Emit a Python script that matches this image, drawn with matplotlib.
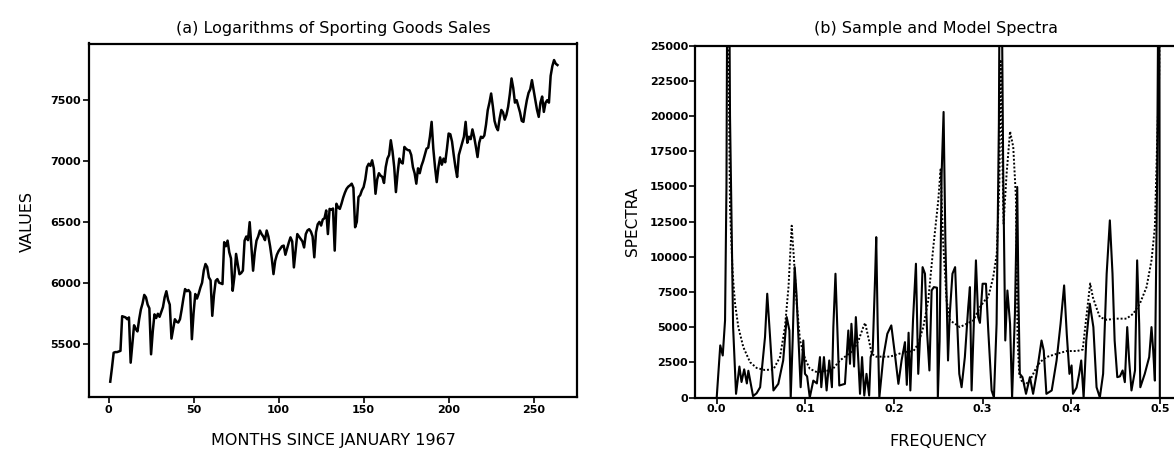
import numpy as np
import matplotlib
matplotlib.use("Agg")
import matplotlib.pyplot as plt

# --------------------------
# DATA
# --------------------------
# log sporting goods sales (x1000), one value per month from Jan 1967
sales_log = [
    5187, 5300, 5425, 5430, 5430, 5435, 5440, 5725, 5720, 5715, 5700, 5715,
    5343, 5500, 5650, 5620, 5600, 5700, 5780, 5830, 5900, 5880, 5820, 5790,
    5412, 5600, 5740, 5710, 5745, 5720, 5760, 5800, 5880, 5930, 5860, 5820,
    5541, 5620, 5700, 5680, 5673, 5700, 5780, 5870, 5948, 5930, 5940, 5920,
    5536, 5750, 5907, 5870, 5910, 5960, 6000, 6100, 6154, 6130, 6044, 6020,
    5728, 5900, 6016, 6030, 6000, 5995, 5989, 6333, 6300, 6346, 6250, 6200,
    5934, 6050, 6237, 6150, 6070, 6080, 6100, 6346, 6380, 6350, 6498, 6300,
    6099, 6250, 6346, 6380, 6429, 6400, 6380, 6350, 6429, 6380, 6300, 6200,
    6071, 6180, 6230, 6260, 6280, 6300, 6305, 6230, 6280, 6330, 6373, 6340,
    6126, 6260, 6400, 6380, 6360, 6340, 6290, 6400, 6430, 6440, 6420, 6380,
    6209, 6415, 6480, 6500, 6470, 6520, 6530, 6594, 6400, 6607, 6600, 6610,
    6264, 6649, 6620, 6607, 6650, 6700, 6740, 6772, 6790, 6800, 6814, 6780,
    6456, 6500, 6704, 6720, 6760, 6786, 6850, 6950, 6978, 6960, 7006, 6940,
    6731, 6850, 6900, 6880, 6870, 6820, 6950, 7020, 7050, 7171, 7080, 6950,
    6745, 6900, 7020, 6990, 6980, 7116, 7100, 7090, 7088, 7050, 6950, 6900,
    6814, 6940, 6900, 6960, 7000, 7050, 7102, 7110, 7200, 7322, 7100, 6950,
    6827, 6950, 7030, 6970, 7020, 6990, 7100, 7226, 7220, 7160, 7050, 6950,
    6869, 7050, 7100, 7150, 7200, 7322, 7150, 7200, 7180, 7260, 7200, 7120,
    7033, 7150, 7200, 7190, 7210, 7300, 7418, 7480, 7555, 7450, 7330, 7280,
    7253, 7350, 7420, 7400, 7340, 7380, 7446, 7550, 7679, 7600, 7480, 7500,
    7450, 7400, 7330, 7322, 7420, 7500, 7560, 7590, 7665, 7580, 7500, 7420,
    7363, 7480, 7530, 7404, 7480, 7500, 7480, 7700, 7780, 7830, 7800, 7789,
]
months = np.arange(1, len(sales_log) + 1)

# sample spectrum (periodogram)
sample_freq = [
    0.0000, 0.0040, 0.0068, 0.0094, 0.0110, 0.0128, 0.0150, 0.0185, 0.0218,
    0.0256, 0.0280, 0.0310, 0.0340, 0.0357, 0.0410, 0.0450, 0.0490, 0.0545,
    0.0570, 0.0600, 0.0640, 0.0695, 0.0750, 0.0790, 0.0820, 0.0835, 0.0857,
    0.0880, 0.0900, 0.0920, 0.0947, 0.0977, 0.0996, 0.1020, 0.1050, 0.1090,
    0.1130, 0.1165, 0.1180, 0.1210, 0.1240, 0.1270, 0.1300, 0.1316, 0.1340,
    0.1360, 0.1383, 0.1410, 0.1447, 0.1485, 0.1504, 0.1520, 0.1550, 0.1570,
    0.1600, 0.1617, 0.1640, 0.1665, 0.1690, 0.1720, 0.1737, 0.1760, 0.1786,
    0.1800, 0.1816, 0.1835, 0.1880, 0.1925, 0.1970, 0.2010, 0.2050, 0.2086,
    0.2124, 0.2145, 0.2165, 0.2185, 0.2215, 0.2248, 0.2274, 0.2300, 0.2323,
    0.2350, 0.2375, 0.2400, 0.2425, 0.2450, 0.2485, 0.2495, 0.2515, 0.2538,
    0.2560, 0.2580, 0.2610, 0.2630, 0.2660, 0.2690, 0.2714, 0.2737, 0.2763,
    0.2800, 0.2838, 0.2857, 0.2876, 0.2900, 0.2925, 0.2950, 0.2970, 0.3000,
    0.3038, 0.3064, 0.3102, 0.3128, 0.3158, 0.3184, 0.3200, 0.3215, 0.3233,
    0.3256, 0.3280, 0.3310, 0.3333, 0.3365, 0.3391, 0.3405, 0.3420, 0.3450,
    0.3490, 0.3534, 0.3570, 0.3610, 0.3665, 0.3690, 0.3720, 0.3780, 0.3835,
    0.3880, 0.3920, 0.3950, 0.3980, 0.4004, 0.4020, 0.4060, 0.4090, 0.4113,
    0.4140, 0.4170, 0.4210, 0.4250, 0.4286, 0.4323, 0.4360, 0.4400, 0.4436,
    0.4466, 0.4490, 0.4520, 0.4550, 0.4580, 0.4605, 0.4632, 0.4654, 0.4680,
    0.4720, 0.4744, 0.4767, 0.4780, 0.4830, 0.4880, 0.4906, 0.4925, 0.4944,
    0.4970, 0.4993, 0.5000,
]
sample_spec = [
    0, 3700, 2985, 5470, 15000, 45000, 20000, 5000, 260,
    2200, 1100, 2000, 1000, 1900, 100, 300, 730, 4290,
    7370, 4500, 500, 970, 2630, 5710, 4760, 0, 4050,
    9260, 7370, 4525, 730, 4050, 1680, 1500, 0, 1200,
    1000, 2870, 730, 2870, 500, 2630, 730, 5000, 8790,
    5000, 850, 900, 970, 4760, 2390, 5235, 2200, 5710,
    2390, 260, 2870, 140, 1680, 140, 2870, 3300, 8315,
    11390, 5235, 0, 2870, 4525, 5120, 3100, 970, 2630,
    3930, 900, 4600, 500, 5500, 9500, 1680, 5000, 9260,
    8790, 4500, 1920, 7600, 7840, 7800, 0, 4000, 15900,
    20280, 11160, 2630, 5950, 8790, 9260, 5235, 1680, 730,
    2870, 6420, 7840, 500, 5000, 9740, 5710, 5300, 8080,
    8080, 4760, 500, 0, 5235, 19450, 40000, 30000, 15900,
    4050, 7600, 5235, 0, 5950, 14950, 7000, 1680, 1445,
    260, 1445, 260, 1700, 4050, 3340, 260, 500, 2630,
    5235, 7960, 4500, 1680, 2275, 260, 700, 1680, 2630,
    0, 4050, 6660, 5000, 730, 0, 1680, 8790, 12580,
    8790, 4050, 1445, 1500, 1920, 1090, 5000, 2630, 500,
    1920, 9740, 5235, 730, 1680, 2870, 5000, 3340, 1200,
    15900, 40000, 0,
]

# fitted model spectrum
model_freq = [
    0.0110, 0.0130, 0.0150, 0.0180, 0.0207, 0.0244, 0.0300, 0.0376, 0.0450,
    0.0545, 0.0640, 0.0714, 0.0770, 0.0810, 0.0846, 0.0870, 0.0900, 0.0940,
    0.0996, 0.1050, 0.1130, 0.1300, 0.1390, 0.1466, 0.1540, 0.1600, 0.1654,
    0.1675, 0.1710, 0.1750, 0.1800, 0.1955, 0.2105, 0.2220, 0.2274, 0.2331,
    0.2387, 0.2444, 0.2500, 0.2526, 0.2555, 0.2594, 0.2632, 0.2690, 0.2744,
    0.2820, 0.2895, 0.2970, 0.3026, 0.3064, 0.3120, 0.3160, 0.3190, 0.3203,
    0.3215, 0.3237, 0.3271, 0.3310, 0.3346, 0.3376, 0.3395, 0.3414, 0.3440,
    0.3478, 0.3534, 0.3590, 0.3647, 0.3720, 0.3835, 0.3950, 0.4064, 0.4130,
    0.4158, 0.4188, 0.4214, 0.4244, 0.4282, 0.4323, 0.4400, 0.4511, 0.4624,
    0.4700, 0.4774, 0.4850, 0.4906, 0.4944, 0.4970, 0.4993, 0.5000,
]
model_spec = [
    40000, 26000, 13500, 8790, 6660, 5000, 3580, 2510, 2100,
    1950, 2000, 2870, 5000, 7840, 12200, 9970, 6900, 4050,
    2750, 2040, 1800, 1950, 2630, 2985, 3340, 4050, 5000,
    5300, 4290, 3100, 2900, 2900, 3200, 3300, 3815, 5000,
    6900, 10680, 14000, 16200, 11000, 6900, 5470, 5235, 5000,
    5235, 5470, 6420, 6900, 7130, 8550, 10200, 15400, 24000,
    20000, 12340, 15900, 18900, 17790, 14240, 4050, 1680, 1200,
    900, 1200, 1920, 2510, 2870, 3100, 3300, 3300, 3400,
    5000, 6660, 8100, 7130, 6420, 5710, 5520, 5600, 5600,
    5950, 6660, 7840, 9740, 12100, 18270, 23000, 30000,
]

value_ticks = [5500, 6000, 6500, 7000, 7500]
month_ticks = [0, 50, 100, 150, 200, 250]
spec_ticks = [0, 2500, 5000, 7500, 10000, 12500, 15000, 17500, 20000, 22500, 25000]
freq_ticks = [0.0, 0.1, 0.2, 0.3, 0.4, 0.5]

# --------------------------
# STYLE
# --------------------------
plt.rcParams["font.family"] = ["DejaVu Sans"]
plt.rcParams["axes.linewidth"] = 1.6
plt.rcParams["xtick.major.width"] = 1.2
plt.rcParams["ytick.major.width"] = 1.2

W, H = 1174, 451
fig = plt.figure(figsize=(W / 100, H / 100), dpi=100)


def px_axes(x0, y0, x1, y1):
    # axes box given in pixels, y measured from the top
    return fig.add_axes([x0 / W, 1 - y1 / H, (x1 - x0) / W, (y1 - y0) / H])


def style_ticks(ax, pad):
    ax.tick_params(axis="both", direction="out", length=4, pad=pad,
                   labelsize=8)
    for lab in ax.get_xticklabels() + ax.get_yticklabels():
        lab.set_fontweight("bold")


# --------------------------
# (a) SALES SERIES
# --------------------------
ax1 = px_axes(89, 43.5, 577, 397)
ax1.plot(months, sales_log, color="black", lw=1.8)
ax1.set_xlim(-11.5, 275.5)
ax1.set_ylim(5061, 7966)
ax1.set_xticks(month_ticks)
ax1.set_yticks(value_ticks)
style_ticks(ax1, 2)

fig.text(333 / W, 1 - 28 / H, "(a) Logarithms of Sporting Goods Sales",
         ha="center", va="center", fontsize=11.5)
fig.text(333 / W, 1 - 441 / H, "MONTHS SINCE JANUARY 1967",
         ha="center", va="center", fontsize=11.5)
fig.text(27 / W, 1 - 222 / H, "VALUES", rotation=90,
         ha="center", va="center", fontsize=11.5)

# --------------------------
# (b) SPECTRA
# --------------------------
ax2 = px_axes(695, 45.5, 1178, 397.5)
ax2.plot(sample_freq, sample_spec, color="black", lw=1.5)
ax2.plot(model_freq, model_spec, color="black", lw=1.4, ls=(0, (1, 1)))
ax2.set_xlim(-0.0245, 0.5205)
ax2.set_ylim(0, 25000)
ax2.set_xticks(freq_ticks)
ax2.set_xticklabels([f"{t:.1f}" for t in freq_ticks])
ax2.set_yticks(spec_ticks)
style_ticks(ax2, 1)

fig.text(936 / W, 1 - 28 / H, "(b) Sample and Model Spectra",
         ha="center", va="center", fontsize=11.5)
fig.text(938 / W, 1 - 441 / H, "FREQUENCY",
         ha="center", va="center", fontsize=11.5)
fig.text(633 / W, 1 - 222 / H, "SPECTRA", rotation=90,
         ha="center", va="center", fontsize=11)

fig.savefig("out.png", dpi=100)
